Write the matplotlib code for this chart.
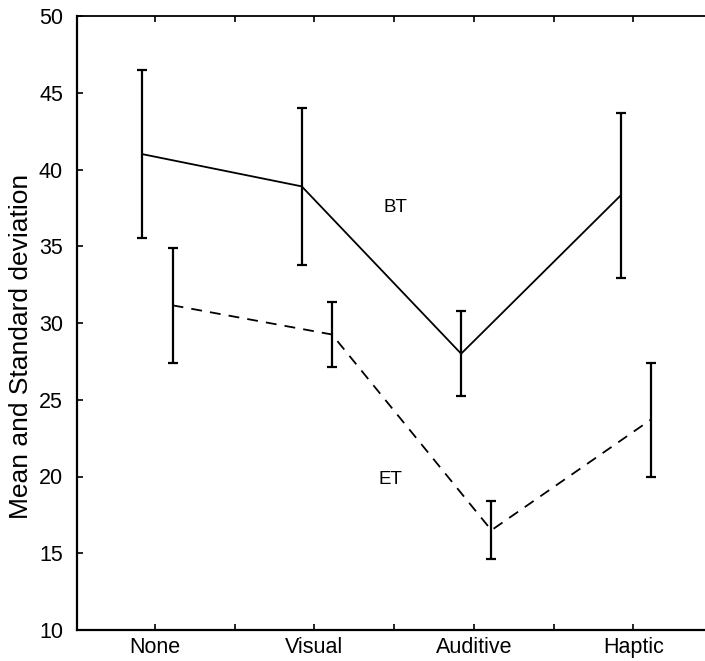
import matplotlib
matplotlib.use("Agg")
import matplotlib.pyplot as plt
import numpy as np

categories = ["None", "Visual", "Auditive", "Haptic"]
bt_mean = [41.0, 38.9, 28.0, 38.3]
bt_sd = [5.45, 5.1, 2.75, 5.4]
et_mean = [31.15, 29.25, 16.5, 23.7]
et_sd = [3.75, 2.12, 1.9, 3.7]
yticks = [10, 15, 20, 25, 30, 35, 40, 45, 50]

W, H = 705, 661
fig = plt.figure(figsize=(W / 100, H / 100), dpi=100)
ax = fig.add_axes([77 / W, (H - 630) / H, (705 - 77) / W, 614 / H])

x = np.arange(len(categories))
bt_off, et_off = -0.08, 0.11

ax.plot(x + bt_off, bt_mean, color="black", lw=1.3, solid_joinstyle="miter")
ax.errorbar(x + bt_off, bt_mean, yerr=bt_sd, fmt="none", ecolor="black",
            elinewidth=1.6, capsize=3.8, capthick=1.6)
ax.plot(x + et_off, et_mean, color="black", lw=1.3, dashes=(6, 4.5))
ax.errorbar(x + et_off, et_mean, yerr=et_sd, fmt="none", ecolor="black",
            elinewidth=1.6, capsize=3.8, capthick=1.6)

fam = ["Liberation Sans Narrow", "Liberation Sans"]
ax.text(1.51, 37.55, "BT", fontsize=13.5, family=fam, ha="center", va="center")
ax.text(1.475, 19.8, "ET", fontsize=13.5, family=fam, ha="center", va="center")

ax.set_xlim(-0.49, 3.45)
ax.set_ylim(10, 50)
ax.set_yticks(yticks)
ax.set_yticklabels([str(v) for v in yticks])
ax.set_xticks(x)
ax.set_xticklabels(categories)
ax.set_xticks(x[:-1] + 0.5, minor=True)

for lab in ax.get_xticklabels() + ax.get_yticklabels():
    lab.set_family(fam)
    lab.set_fontsize(15.5)

ax.tick_params(axis="x", which="both", direction="in", top=True, bottom=True,
               length=4.5, width=1.2, pad=5)
ax.tick_params(axis="y", direction="in", left=True, right=False,
               length=4.5, width=1.2, pad=10)

ax.spines["right"].set_visible(False)
for s in ["left", "bottom"]:
    ax.spines[s].set_linewidth(1.6)
ax.spines["top"].set_linewidth(1.3)

ax.set_ylabel("Mean and Standard deviation", fontsize=19, family="Liberation Sans")
ax.yaxis.set_label_coords(-44 / 628, (630 - 346) / 614)

fig.savefig("out.png", dpi=100)
